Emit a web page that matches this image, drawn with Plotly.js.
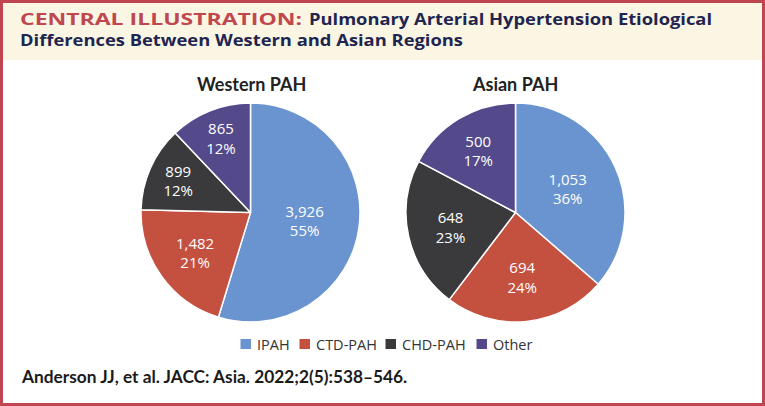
<!DOCTYPE html>
<html>
<head>
<meta charset="utf-8">
<script src="https://cdn.plot.ly/plotly-3.0.1.min.js"></script>
<style>
html,body{margin:0;padding:0;background:#fff;}
#chart{width:765px;height:406px;}
</style>
</head>
<body>
<div id="chart"></div>
<script>
const categories = ["IPAH", "CTD-PAH", "CHD-PAH", "Other"];
const westernValues = [3926, 1482, 899, 865];
const westernPercentLabels = ["55%", "21%", "12%", "12%"];
const asianValues = [1053, 694, 648, 500];
const asianPercentLabels = ["36%", "24%", "23%", "17%"];
const sliceColors = ["#6a94cf", "#c4503f", "#3a3a3c", "#54498a"];
const panelTitles = ["Western PAH", "Asian PAH"];
const headerLabel = "CENTRAL ILLUSTRATION:";
const headerLine1 = "Pulmonary Arterial Hypertension Etiological";
const headerLine2 = "Differences Between Western and Asian Regions";
const citation = "Anderson JJ, et al. JACC: Asia. 2022;2(5):538\u2013546.";

const W = 765, H = 406;
const px = x => x / W;
const py = y => 1 - y / H;

function fmt(v) { return v.toLocaleString("en-US"); }
function mkText(vals, pcts) { return vals.map((v, i) => fmt(v) + "<br>" + pcts[i]); }

const common = {
  type: "pie",
  labels: categories,
  sort: false,
  direction: "clockwise",
  rotation: 0,
  textinfo: "text",
  textposition: "inside",
  insidetextorientation: "horizontal",
  marker: { colors: sliceColors, line: { color: "#ffffff", width: 1.5 } },
  textfont: { family: "Open Sans, sans-serif", size: 15, color: "#ffffff" },
  hoverinfo: "label+value+percent",
  showlegend: false
};

const data = [
  Object.assign({}, common, {
    values: westernValues,
    text: mkText(westernValues, westernPercentLabels),
    name: panelTitles[0],
    domain: { x: [px(141), px(360)], y: [py(322), py(103)] }
  }),
  Object.assign({}, common, {
    values: asianValues,
    text: mkText(asianValues, asianPercentLabels),
    name: panelTitles[1],
    domain: { x: [px(406), px(625)], y: [py(322), py(103)] }
  })
];

const headFont = "Open Sans, Noto Sans, sans-serif";
const legendFont = { family: "Open Sans, sans-serif", size: 14.5, color: "#333333" };
const legendSwatchX = [240.5, 299.5, 385.5, 476.5];
const legendY = 344;

const shapes = [
  { type: "rect", xref: "paper", yref: "paper", x0: 0, x1: 1, y0: py(60), y1: 1,
    fillcolor: "#fbf6e3", line: { width: 0 }, layer: "below" },
  { type: "rect", xref: "paper", yref: "paper", x0: px(1.5), x1: px(763.5), y0: py(404.5), y1: py(1.5),
    fillcolor: "rgba(0,0,0,0)", line: { color: "#bf4650", width: 3 } }
];
const annotations = [
  { xref: "paper", yref: "paper", x: px(20), y: py(18), xanchor: "left", yanchor: "middle",
    showarrow: false, text: "<b>" + headerLabel + "</b>",
    font: { family: headFont, size: 16.5, color: "#c0474d" } },
  { xref: "paper", yref: "paper", x: px(309), y: py(18), xanchor: "left", yanchor: "middle",
    showarrow: false, text: "<b>" + headerLine1 + "</b>",
    font: { family: headFont, size: 16.5, color: "#1e2550" } },
  { xref: "paper", yref: "paper", x: px(20), y: py(39), xanchor: "left", yanchor: "middle",
    showarrow: false, text: "<b>" + headerLine2 + "</b>",
    font: { family: headFont, size: 16.5, color: "#1e2550" } },
  { xref: "paper", yref: "paper", x: px(251), y: py(84), xanchor: "center", yanchor: "middle",
    showarrow: false, text: "<b>" + panelTitles[0] + "</b>",
    font: { family: "Lato, Open Sans, sans-serif", size: 18, color: "#222222" } },
  { xref: "paper", yref: "paper", x: px(515), y: py(84), xanchor: "center", yanchor: "middle",
    showarrow: false, text: "<b>" + panelTitles[1] + "</b>",
    font: { family: "Lato, Open Sans, sans-serif", size: 18, color: "#222222" } },
  { xref: "paper", yref: "paper", x: px(19), y: py(376), xanchor: "left", yanchor: "middle",
    showarrow: false, align: "left", text: "<b>" + citation + "</b>",
    font: { family: "Lato, Open Sans, sans-serif", size: 17.3, color: "#1a1a1a" } }
];

categories.forEach((c, i) => {
  const x0 = legendSwatchX[i];
  shapes.push({ type: "rect", xref: "paper", yref: "paper",
    x0: px(x0), x1: px(x0 + 10.5), y0: py(legendY + 5), y1: py(legendY - 5),
    fillcolor: sliceColors[i], line: { width: 0 } });
  annotations.push({ xref: "paper", yref: "paper", x: px(x0 + 14), y: py(legendY), xanchor: "left", yanchor: "middle",
    showarrow: false, text: c, font: legendFont });
});

const layout = {
  width: W, height: H,
  margin: { l: 0, r: 0, t: 0, b: 0 },
  paper_bgcolor: "#ffffff",
  showlegend: false,
  shapes: shapes,
  annotations: annotations
};

Plotly.newPlot("chart", data, layout, { displayModeBar: false, staticPlot: true }).then(gd => {
  // fit header lines to the width of the original typeface: [index, left, width]
  const targets = [[0, 20, 282], [1, 309, 403], [2, 20, 443]];
  const texts = gd.querySelectorAll(".annotation-text");
  const svgLeft = gd.getBoundingClientRect().left;
  targets.forEach(([idx, left, w]) => {
    const t = texts[idx];
    if (!t) return;
    t.setAttribute("textLength", w);
    t.setAttribute("lengthAdjust", "spacingAndGlyphs");
    const r = t.getBoundingClientRect();
    const dx = left - (r.left - svgLeft);
    const prev = t.getAttribute("transform") || "";
    t.setAttribute("transform", "translate(" + dx + ",0) " + prev);
  });
});
</script>
</body>
</html>
